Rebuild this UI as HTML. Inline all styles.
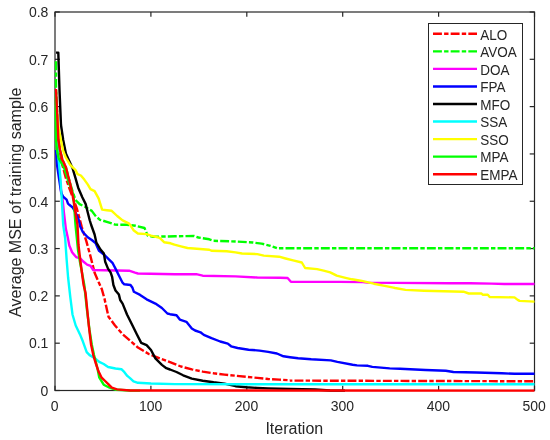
<!DOCTYPE html>
<html><head><meta charset="utf-8"><style>
html,body{margin:0;padding:0;background:#fff;width:550px;height:440px;overflow:hidden}
svg{display:block;will-change:transform}
</style></head><body>
<svg width="550" height="440" viewBox="0 0 550 440">
<rect width="550" height="440" fill="#fff"/>
<g stroke="#262626" stroke-width="1.2" fill="none">
<rect x="55.0" y="12.0" width="479.5" height="378.5"/>
<line x1="55.00" y1="390.5" x2="55.00" y2="385.7"/>
<line x1="55.00" y1="12.0" x2="55.00" y2="16.8"/>
<line x1="150.90" y1="390.5" x2="150.90" y2="385.7"/>
<line x1="150.90" y1="12.0" x2="150.90" y2="16.8"/>
<line x1="246.80" y1="390.5" x2="246.80" y2="385.7"/>
<line x1="246.80" y1="12.0" x2="246.80" y2="16.8"/>
<line x1="342.70" y1="390.5" x2="342.70" y2="385.7"/>
<line x1="342.70" y1="12.0" x2="342.70" y2="16.8"/>
<line x1="438.60" y1="390.5" x2="438.60" y2="385.7"/>
<line x1="438.60" y1="12.0" x2="438.60" y2="16.8"/>
<line x1="534.50" y1="390.5" x2="534.50" y2="385.7"/>
<line x1="534.50" y1="12.0" x2="534.50" y2="16.8"/>
<line x1="55.0" y1="390.50" x2="59.8" y2="390.50"/>
<line x1="534.5" y1="390.50" x2="529.7" y2="390.50"/>
<line x1="55.0" y1="343.19" x2="59.8" y2="343.19"/>
<line x1="534.5" y1="343.19" x2="529.7" y2="343.19"/>
<line x1="55.0" y1="295.88" x2="59.8" y2="295.88"/>
<line x1="534.5" y1="295.88" x2="529.7" y2="295.88"/>
<line x1="55.0" y1="248.56" x2="59.8" y2="248.56"/>
<line x1="534.5" y1="248.56" x2="529.7" y2="248.56"/>
<line x1="55.0" y1="201.25" x2="59.8" y2="201.25"/>
<line x1="534.5" y1="201.25" x2="529.7" y2="201.25"/>
<line x1="55.0" y1="153.94" x2="59.8" y2="153.94"/>
<line x1="534.5" y1="153.94" x2="529.7" y2="153.94"/>
<line x1="55.0" y1="106.62" x2="59.8" y2="106.62"/>
<line x1="534.5" y1="106.62" x2="529.7" y2="106.62"/>
<line x1="55.0" y1="59.31" x2="59.8" y2="59.31"/>
<line x1="534.5" y1="59.31" x2="529.7" y2="59.31"/>
<line x1="55.0" y1="12.00" x2="59.8" y2="12.00"/>
<line x1="534.5" y1="12.00" x2="529.7" y2="12.00"/>
</g>
<defs><clipPath id="c"><rect x="53" y="10" width="484" height="383"/></clipPath></defs>
<g clip-path="url(#c)" fill="none" stroke-width="2.4" stroke-linejoin="round">
<path d="M56.0,100.0 L57.0,130.0 L61.0,160.0 L65.9,178.2 L69.3,188.0 L76.8,208.4 L81.6,226.4 L86.4,241.4 L90.5,256.4 L94.6,272.7 L98.7,282.3 L101.8,289.1 L104.5,298.7 L108.5,316.7 L115.0,325.5 L122.6,334.2 L131.4,341.8 L137.9,347.5 L148.8,354.0 L159.7,358.4 L170.0,362.2 L180.9,366.5 L191.8,369.4 L202.7,371.6 L213.6,373.3 L224.5,374.6 L235.5,375.7 L246.4,376.8 L257.3,377.9 L268.2,379.0 L279.1,379.6 L290.0,380.3" stroke="#ff0000" stroke-dasharray="8.9 2.2 4.4 2.17"/>
<path d="M290,380.6 L534.5,381.3" stroke="#ff0000" stroke-dasharray="8.9 2.2 4.4 2.17" stroke-dashoffset="13.14"/>
<path d="M56.0,61.3 L56.0,88.0 L57.5,120.0 L58.4,140.0 L60.0,150.0 L62.5,160.0 L65.9,167.3 L70.0,183.0 L72.5,191.0 L74.1,195.9 L75.5,200.0 L79.6,204.1 L85.0,206.8 L91.8,210.9 L95.9,216.4 L100.0,219.8 L106.8,221.8 L115.0,224.6 L118.3,224.7 L127.0,224.7 L135.7,225.8 L144.5,228.0 L147.7,235.6 L153.2,236.7 L175.0,236.3 L194.0,236.0 L198.4,237.5 L209.3,239.3 L213.6,240.8 L235.5,241.5 L252.9,242.5 L261.6,243.6 L270.4,245.8 L276.9,248.2" stroke="#00ff00" stroke-dasharray="8.9 2.2 4.4 2.17"/>
<path d="M276.9,248.2 L534.5,248.3" stroke="#00ff00" stroke-dasharray="8.9 2.2 4.4 2.17" stroke-dashoffset="9.04"/>
<path d="M56.0,150.0 L57.5,160.0 L59.5,175.0 L61.0,190.0 L62.5,198.6 L63.9,212.3 L65.9,229.1 L68.0,238.6 L69.3,245.5 L72.1,252.3 L76.1,257.1 L80.2,258.4 L83.6,261.8 L87.1,264.6 L90.5,265.9 L93.2,270.0 L105.0,270.3 L129.1,270.7 L135.0,272.7 L137.9,273.5 L175.0,274.2 L196.2,274.2 L202.7,275.7 L235.5,276.4 L257.3,277.5 L280.0,277.8 L287.6,278.0 L290.9,281.7 L340.0,281.9 L362.9,282.1 L367.3,282.6 L395.0,282.9 L450.0,283.2 L470.0,283.3 L491.6,283.6 L504.4,284.0 L534.5,284.0" stroke="#ff00ff"/>
<path d="M56.0,150.0 L57.1,165.5 L59.1,179.1 L61.2,192.7 L63.2,196.8 L66.6,199.6 L68.0,203.7 L69.3,204.8 L72.7,207.5 L76.8,215.0 L78.9,220.5 L80.0,226.0 L82.8,232.0 L87.7,237.3 L91.8,240.0 L95.5,243.0 L99.1,250.9 L104.5,255.0 L108.6,259.1 L112.7,263.2 L115.5,268.6 L118.9,275.5 L122.3,282.3 L124.3,284.3 L130.5,285.0 L132.5,287.8 L133.9,291.8 L140.1,294.9 L146.6,299.3 L155.4,303.6 L161.9,308.0 L167.4,313.5 L170.0,314.2 L176.5,315.3 L179.8,319.6 L186.4,321.8 L191.8,328.4 L195.1,330.5 L200.5,332.3 L203.8,334.9 L211.5,338.2 L220.2,341.5 L227.8,343.6 L231.1,346.3 L237.6,348.0 L248.6,349.7 L259.5,350.6 L268.2,351.9 L276.9,353.5 L283.5,356.3 L290.0,357.2 L298.1,358.2 L311.2,359.3 L330.8,360.4 L337.4,361.9 L352.6,364.7 L357.0,365.4 L367.9,365.8 L372.3,366.9 L389.7,368.4 L400.0,368.7 L425.5,370.0 L445.8,370.7 L453.4,372.0 L476.4,372.5 L501.8,373.3 L514.5,373.8 L534.5,373.8" stroke="#0000ff"/>
<path d="M56.0,52.6 L58.3,52.6 L59.5,90.0 L61.0,125.0 L63.2,140.0 L65.9,153.6 L68.8,160.0 L72.7,168.6 L75.5,178.2 L78.2,187.7 L82.3,197.3 L85.7,204.1 L87.7,212.3 L89.8,220.5 L91.2,225.0 L94.6,234.5 L96.4,242.7 L100.5,249.5 L103.9,253.6 L105.2,261.8 L108.0,268.6 L110.7,272.7 L112.1,276.8 L113.4,285.0 L115.5,290.5 L118.9,294.6 L120.2,300.0 L122.6,303.6 L127.0,314.5 L132.5,325.5 L136.8,334.2 L141.2,342.9 L146.6,345.1 L151.0,350.0 L155.4,358.4 L161.9,364.9 L166.3,368.2 L170.0,369.5 L176.5,372.0 L183.1,375.3 L191.8,378.6 L202.7,380.7 L213.6,382.3 L224.5,383.6 L235.5,386.2 L246.4,387.3 L257.3,387.9 L268.2,388.4 L290.0,389.0 L315.0,389.5 L330.0,390.5 L345.0,390.6" stroke="#000000"/>
<path d="M56.0,140.0 L57.1,145.0 L58.5,158.6 L60.5,179.1 L61.2,190.0 L62.5,212.0 L63.2,225.0 L65.2,238.6 L66.6,259.1 L68.1,277.5 L70.3,297.1 L72.5,314.5 L75.7,325.5 L80.0,334.4 L83.0,341.8 L86.7,352.2 L89.6,355.1 L94.8,358.1 L99.2,361.8 L103.7,364.0 L108.1,367.0 L115.5,368.5 L121.4,369.2 L124.4,372.2 L127.3,375.9 L130.0,378.1 L133.5,381.3 L137.9,382.8 L151.0,383.5 L175.0,384.1 L290.0,384.3 L534.5,384.3" stroke="#00ffff"/>
<path d="M56.0,105.0 L57.5,118.0 L58.8,129.0 L60.3,137.0 L61.3,142.0 L63.2,150.9 L65.9,157.7 L70.0,164.6 L72.7,167.3 L75.5,170.0 L77.5,174.1 L80.9,175.5 L84.3,179.6 L87.7,184.4 L90.5,189.1 L94.6,191.1 L97.5,196.4 L98.7,198.6 L102.1,209.6 L106.8,210.2 L111.7,210.8 L117.2,216.0 L122.6,220.4 L129.2,223.6 L133.5,230.2 L137.9,233.5 L146.6,234.1 L151.0,235.6 L159.7,237.8 L164.1,242.2 L170.6,243.3 L174.4,244.7 L180.9,246.3 L187.5,248.0 L209.3,249.7 L211.5,250.8 L226.7,251.3 L235.5,252.4 L242.0,253.5 L257.3,254.1 L263.8,255.6 L279.1,256.7 L285.6,258.5 L293.1,260.4 L301.8,262.5 L305.1,268.0 L317.1,269.1 L323.6,270.6 L330.2,272.4 L336.7,275.6 L345.5,277.8 L352.0,279.3 L360.7,280.7 L367.3,282.2 L373.8,283.7 L384.7,285.9 L393.5,287.6 L395.0,288.0 L405.5,289.9 L424.0,290.7 L463.5,291.7 L468.8,293.5 L481.5,293.5 L482.7,294.8 L487.8,294.8 L489.7,297.0 L514.5,297.4 L517.7,299.9 L519.6,300.9 L534.5,301.6" stroke="#ffff00"/>
<path d="M56.0,92.0 L55.8,120.0 L56.0,140.0 L57.0,150.0 L58.5,158.0 L63.9,167.3 L68.0,180.0 L73.4,195.0 L75.5,225.0 L78.0,250.0 L80.0,262.0 L84.3,285.0 L87.0,310.0 L89.5,330.0 L91.8,344.8 L94.0,355.1 L96.0,362.5 L97.8,370.0 L99.2,377.3 L103.7,384.7 L109.6,387.7 L116.0,389.8 L130.0,390.5 L140.0,390.6" stroke="#00ff00"/>
<path d="M56.0,89.0 L57.5,120.0 L58.4,140.0 L60.0,150.0 L62.5,160.0 L65.9,167.3 L70.0,183.0 L73.6,200.0 L75.8,215.0 L77.5,225.0 L78.5,245.0 L80.5,262.0 L83.6,285.0 L85.5,292.7 L88.8,325.5 L91.1,344.8 L93.3,355.1 L95.5,362.5 L98.5,371.4 L101.4,377.3 L105.1,381.0 L108.8,384.7 L111.8,387.7 L117.0,389.4 L130.0,390.5 L534.5,390.6" stroke="#ff0000"/>
</g>
<g font-family="Liberation Sans, sans-serif" font-size="14" fill="#262626">
<text transform="translate(54.70,411.4) scale(1,1.07)" text-anchor="middle">0</text>
<text transform="translate(150.60,411.4) scale(1,1.07)" text-anchor="middle">100</text>
<text transform="translate(246.50,411.4) scale(1,1.07)" text-anchor="middle">200</text>
<text transform="translate(342.40,411.4) scale(1,1.07)" text-anchor="middle">300</text>
<text transform="translate(438.30,411.4) scale(1,1.07)" text-anchor="middle">400</text>
<text transform="translate(534.20,411.4) scale(1,1.07)" text-anchor="middle">500</text>
<text transform="translate(48.4,395.80) scale(1,1.07)" text-anchor="end">0</text>
<text transform="translate(48.4,348.49) scale(1,1.07)" text-anchor="end">0.1</text>
<text transform="translate(48.4,301.18) scale(1,1.07)" text-anchor="end">0.2</text>
<text transform="translate(48.4,253.86) scale(1,1.07)" text-anchor="end">0.3</text>
<text transform="translate(48.4,206.55) scale(1,1.07)" text-anchor="end">0.4</text>
<text transform="translate(48.4,159.24) scale(1,1.07)" text-anchor="end">0.5</text>
<text transform="translate(48.4,111.92) scale(1,1.07)" text-anchor="end">0.6</text>
<text transform="translate(48.4,64.61) scale(1,1.07)" text-anchor="end">0.7</text>
<text transform="translate(48.4,17.30) scale(1,1.07)" text-anchor="end">0.8</text>
</g>
<text font-family="Liberation Sans, sans-serif" font-size="16" fill="#262626" x="294.3" y="433.5" text-anchor="middle">Iteration</text>
<text font-family="Liberation Sans, sans-serif" font-size="16" fill="#262626" transform="translate(21.2,202.3) rotate(-90)" text-anchor="middle">Average MSE of training sample</text>
<rect x="428.5" y="23.5" width="94.0" height="161.0" fill="#fff" stroke="#262626" stroke-width="1"/>
<line x1="433" y1="33.80" x2="477" y2="33.80" stroke="#ff0000" stroke-width="2.4" stroke-dasharray="8.9 2.2 4.4 2.17"/>
<text font-family="Liberation Sans, sans-serif" font-size="13.5" fill="#262626" transform="translate(480.3,39.50) scale(1,1.06)">ALO</text>
<line x1="433" y1="51.35" x2="477" y2="51.35" stroke="#00ff00" stroke-width="2.4" stroke-dasharray="8.9 2.2 4.4 2.17"/>
<text font-family="Liberation Sans, sans-serif" font-size="13.5" fill="#262626" transform="translate(480.3,57.05) scale(1,1.06)">AVOA</text>
<line x1="433" y1="68.90" x2="477" y2="68.90" stroke="#ff00ff" stroke-width="2.4"/>
<text font-family="Liberation Sans, sans-serif" font-size="13.5" fill="#262626" transform="translate(480.3,74.60) scale(1,1.06)">DOA</text>
<line x1="433" y1="86.45" x2="477" y2="86.45" stroke="#0000ff" stroke-width="2.4"/>
<text font-family="Liberation Sans, sans-serif" font-size="13.5" fill="#262626" transform="translate(480.3,92.15) scale(1,1.06)">FPA</text>
<line x1="433" y1="104.00" x2="477" y2="104.00" stroke="#000000" stroke-width="2.4"/>
<text font-family="Liberation Sans, sans-serif" font-size="13.5" fill="#262626" transform="translate(480.3,109.70) scale(1,1.06)">MFO</text>
<line x1="433" y1="121.55" x2="477" y2="121.55" stroke="#00ffff" stroke-width="2.4"/>
<text font-family="Liberation Sans, sans-serif" font-size="13.5" fill="#262626" transform="translate(480.3,127.25) scale(1,1.06)">SSA</text>
<line x1="433" y1="139.10" x2="477" y2="139.10" stroke="#ffff00" stroke-width="2.4"/>
<text font-family="Liberation Sans, sans-serif" font-size="13.5" fill="#262626" transform="translate(480.3,144.80) scale(1,1.06)">SSO</text>
<line x1="433" y1="156.65" x2="477" y2="156.65" stroke="#00ff00" stroke-width="2.4"/>
<text font-family="Liberation Sans, sans-serif" font-size="13.5" fill="#262626" transform="translate(480.3,162.35) scale(1,1.06)">MPA</text>
<line x1="433" y1="174.20" x2="477" y2="174.20" stroke="#ff0000" stroke-width="2.4"/>
<text font-family="Liberation Sans, sans-serif" font-size="13.5" fill="#262626" transform="translate(480.3,179.90) scale(1,1.06)">EMPA</text>
</svg>
</body></html>
